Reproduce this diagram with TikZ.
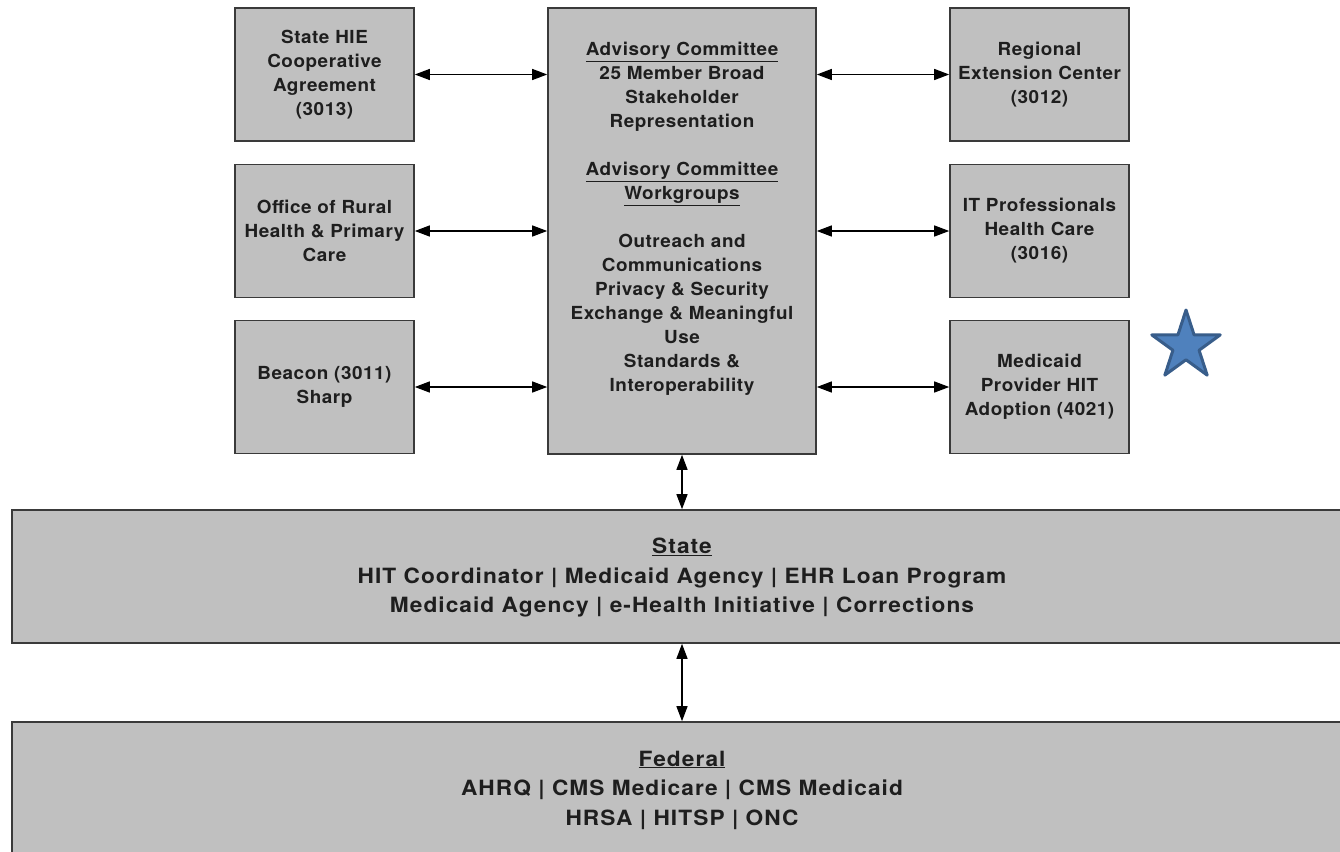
\documentclass[tikz,border=0pt]{standalone}
\usepackage{fontspec}
\setmainfont{TeX Gyre Heros}
\newfontfamily\smallf{TeX Gyre Heros}[FakeStretch=1.05,LetterSpace=3]
\newfontfamily\bigf{TeX Gyre Heros}[FakeStretch=1.08,LetterSpace=5]
\usetikzlibrary{arrows.meta,shapes.geometric}
\definecolor{boxfill}{HTML}{C0C0C0}
\definecolor{boxline}{HTML}{3A3A3A}
\definecolor{txt}{HTML}{1E1E1E}
\definecolor{starfill}{HTML}{4F81BD}
\definecolor{starline}{HTML}{385D8A}
\begin{document}
\begin{tikzpicture}[x=1pt,y=-1pt,
  box/.style={draw=boxline,fill=boxfill,line width=1.6pt,inner sep=0pt,
    text=txt,align=center,font=\smallf\fontsize{18}{24}\selectfont\bfseries},
  smallbox/.style={box,minimum width=179pt,minimum height=133pt},
  wide/.style={box,minimum width=1340pt,minimum height=133pt},
  lbl/.style={text=txt,align=center,inner sep=0pt},
  link/.style={{Triangle[length=15pt,width=11pt]}-{Triangle[length=15pt,width=11pt]},line width=1.3pt,black}]
\useasboundingbox (0,0) rectangle (1340,851);
\fill[white] (0,0) rectangle (1340,851);

% left column
\node[smallbox] (l1) at (324.5,74.5) {State HIE\\Cooperative\\Agreement\\(3013)};
\node[smallbox] (l2) at (324.5,231) {Office of Rural\\Health \& Primary\\Care};
\node[smallbox] (l3) at (324.5,387) {Beacon (3011)\\Sharp};

% right column
\node[smallbox] (r1) at (1039.5,74.5) {Regional\\Extension Center\\(3012)};
\node[smallbox] (r2) at (1039.5,231) {IT Professionals\\Health Care\\(3016)};
\node[smallbox] (r3) at (1039.5,387) {Medicaid\\Provider HIT\\Adoption (4021)};

% center
\node[box,minimum width=268pt,minimum height=446pt] (c) at (682,231) {};
\node[lbl,font=\smallf\fontsize{18}{24}\selectfont\bfseries] (ctext) at (682,219)
 {\underline{Advisory Committee}\\25 Member Broad\\Stakeholder\\Representation\\[24pt]
  \underline{Advisory Committee}\\\underline{Workgroups}\\[24pt]
  Outreach and\\Communications\\Privacy \& Security\\Exchange \& Meaningful\\Use\\Standards \&\\Interoperability};

% state and federal
\node[wide] (s) at (682,576.5) {};
\node[lbl,font=\bigf\fontsize{21}{29.5}\selectfont\bfseries] (stext) at (682,578)
 {\underline{State}\\HIT Coordinator | Medicaid Agency | EHR Loan Program\\Medicaid Agency | e-Health Initiative | Corrections};
\node[wide,minimum height=140pt] (f) at (682,792) {};
\node[lbl,font=\bigf\fontsize{21}{29.5}\selectfont\bfseries] (ftext) at (682,790)
 {\underline{Federal}\\AHRQ | CMS Medicare | CMS Medicaid\\HRSA | HITSP | ONC};

% star
\node[star,star points=5,star point ratio=2.618,minimum size=72pt,inner sep=0pt,
  fill=starfill,draw=starline,line width=3pt,line join=round] (st) at (1186,346) {};

% connectors
\draw[link] (l1.east) -- (l1.east -| c.west);
\draw[link] (l2.east) -- (l2.east -| c.west);
\draw[link] (l3.east) -- (l3.east -| c.west);
\draw[link] (r1.west -| c.east) -- (r1.west);
\draw[link] (r2.west -| c.east) -- (r2.west);
\draw[link] (r3.west -| c.east) -- (r3.west);
\draw[link] (c.south) -- (c.south |- s.north);
\draw[link] (s.south) -- (s.south |- f.north);
\end{tikzpicture}
\end{document}
